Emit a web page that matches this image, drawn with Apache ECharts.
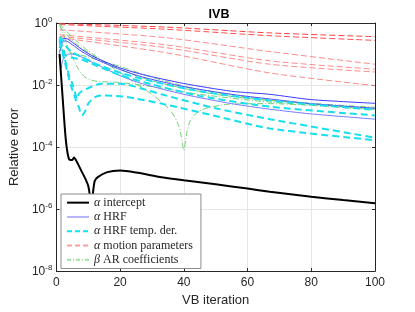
<!DOCTYPE html>
<html>
<head>
<meta charset="utf-8">
<script src="https://cdn.jsdelivr.net/npm/echarts@6/dist/echarts.min.js"></script>
<style>html,body{margin:0;padding:0;background:#fff}#c{width:415px;height:312px}</style>
</head>
<body>
<div id="c"></div>
<script>
// ---- data (VB iteration, relative error) ----
const xTicks = [0, 20, 40, 60, 80, 100];
const yTickExp = [0, -2, -4, -6, -8];

// alpha intercept
const itIntercept = [1, 2, 3, 4, 5, 5.5, 6.5, 8, 9, 10, 11, 12, 13, 16, 20, 25, 33, 40, 50, 60, 67, 80, 90, 100];
const alphaIntercept = [0.1, 0.00355, 0.000158, 3.98e-5, 3.8e-5, 4.57e-5, 3.24e-5, 1.58e-5, 1.0e-5, 5.6e-6, 1.6e-6, 7.9e-6, 1.07e-5, 1.55e-5, 1.74e-5, 1.51e-5, 1.07e-5, 8.5e-6, 6.31e-6, 4.57e-6, 3.63e-6, 2.51e-6, 1.95e-6, 1.55e-6];

// alpha HRF (three components)
const itHrfA = [1, 2, 3, 5, 8, 12, 20, 27, 40, 55, 67, 80, 100];
const hrf1 = [0.158, 0.302, 0.316, 0.24, 0.141, 0.0794, 0.0355, 0.0219, 0.0112, 0.00631, 0.00501, 0.00339, 0.00257];
const hrf2 = [0.112, 0.251, 0.263, 0.2, 0.12, 0.0708, 0.0316, 0.0182, 0.00891, 0.00501, 0.00355, 0.00251, 0.00178];
const itHrfB = [1, 1.5, 2, 3, 4, 6, 8, 12, 20, 27, 40, 55, 67, 80, 100];
const hrf3 = [0.126, 0.0355, 0.0631, 0.0891, 0.1, 0.0955, 0.0794, 0.0501, 0.02, 0.011, 0.00501, 0.00251, 0.00166, 0.00117, 0.000794];

// alpha HRF temporal derivative
const itTdU = [1, 2, 3, 5, 8, 12, 20, 30, 45, 67, 100];
const tdU1 = [0.355, 0.282, 0.178, 0.112, 0.0794, 0.0501, 0.0251, 0.0132, 0.00631, 0.00316, 0.00158];
const tdU2 = [0.282, 0.158, 0.0891, 0.0759, 0.0661, 0.0447, 0.0209, 0.0105, 0.00447, 0.002, 0.00105];
const itTdW1 = [1, 2, 3, 4, 5, 6, 6.5, 7, 8, 10, 14, 20, 27, 33, 50, 67, 100];
const tdW1 = [0.316, 0.126, 0.0501, 0.02, 0.0112, 0.00501, 0.00355, 0.00501, 0.00631, 0.00794, 0.011, 0.011, 0.00759, 0.00501, 0.00178, 0.000794, 0.0002];
const itTdW2 = [1, 2, 3, 4, 5, 6, 7, 8, 9, 10, 12, 14, 20, 25, 33, 50, 67, 100];
const tdW2 = [0.251, 0.1, 0.0398, 0.0158, 0.00708, 0.00355, 0.002, 0.00107, 0.00141, 0.00251, 0.00398, 0.00457, 0.00437, 0.00363, 0.00251, 0.001, 0.000398, 0.000166];

// alpha motion parameters
const itMotion = [1, 34, 67, 100];
const mot1 = [0.955, 0.741, 0.479, 0.363];
const mot2 = [0.891, 0.631, 0.389, 0.275];
const mot3 = [0.603, 0.339, 0.12, 0.0468];
const mot4 = [0.417, 0.2, 0.0603, 0.0324];
const mot5 = [0.372, 0.162, 0.0468, 0.0263];
const mot6 = [0.339, 0.112, 0.0245, 0.00955];

// beta AR coefficients
const itArDip = [1, 3, 6, 10, 15, 20, 25, 30, 33, 36, 38, 39, 40, 41, 42, 44, 47, 54, 67, 100];
const arDip = [0.955, 0.562, 0.282, 0.126, 0.0562, 0.0251, 0.0112, 0.00501, 0.00282, 0.00141, 0.000631, 0.000282, 7.94e-5, 0.000316, 0.000708, 0.00126, 0.00178, 0.0024, 0.00251, 0.00158];
const itAr2 = [1, 2, 3, 4, 5, 7, 9, 12, 20, 30, 45, 67, 100];
const ar2 = [0.891, 0.501, 0.251, 0.126, 0.0794, 0.0316, 0.0178, 0.0135, 0.012, 0.00891, 0.00501, 0.00282, 0.00178];
const itAr3 = [1, 3, 6, 10, 16, 25, 34, 50, 67, 100];
const ar3 = [0.794, 0.447, 0.224, 0.112, 0.0501, 0.02, 0.0107, 0.00501, 0.00316, 0.00191];
const itAr4 = [1, 4, 9, 20, 30, 45, 67, 100];
const ar4 = [0.141, 0.112, 0.0851, 0.0398, 0.0178, 0.00708, 0.00331, 0.00166];

const legendNames = ['α intercept', 'α HRF', 'α HRF temp. der.', 'α motion parameters', 'β AR coefficients'];

// ---- build ----
const pairs = (xs, ys) => xs.map((x, i) => [x, ys[i]]);
const AX = '#262626';
function line(name, xs, ys, color, width, type, z) {
  return {
    name: name, type: 'line', data: pairs(xs, ys), symbol: 'none', smooth: 0.25,
    xAxisIndex: 0, yAxisIndex: 0, silent: true, z: z || 2,
    lineStyle: { color: color, width: width, type: type }
  };
}
const dashC = [7, 4], dashR = [6, 3], dashG = [6, 2, 1, 2];
const series = [
  line('m1', itMotion, mot1, '#ff4040', 1, dashR),
  line('m2', itMotion, mot2, '#ff5050', 1, dashR),
  line('m3', itMotion, mot3, '#ff8a8a', 1, dashR),
  line('m4', itMotion, mot4, '#ff8a8a', 1, dashR),
  line('m5', itMotion, mot5, '#ff8a8a', 1, dashR),
  line('m6', itMotion, mot6, '#ff8a8a', 1, dashR),
  line('g1', itArDip, arDip, '#66c866', 0.9, dashG),
  line('g2', itAr2, ar2, '#66c866', 0.9, dashG),
  line('g3', itAr3, ar3, '#66c866', 0.9, dashG),
  line('g4', itAr4, ar4, '#66c866', 0.9, dashG),
  line('h1', itHrfA, hrf1, '#3a3aff', 1, 'solid'),
  line('h2', itHrfA, hrf2, '#4c4cff', 1, 'solid'),
  line('h3', itHrfB, hrf3, '#7a7aff', 1, 'solid'),
  line('t1', itTdU, tdU1, '#18dfee', 2, dashC),
  line('t2', itTdU, tdU2, '#18dfee', 2, dashC),
  line('t3', itTdW1, tdW1, '#18dfee', 2, dashC),
  line('t4', itTdW2, tdW2, '#18dfee', 2, dashC),
  line('i1', itIntercept, alphaIntercept, '#000000', 2, 'solid', 5)
];
// legend-only entries
const legStyles = [
  ['#000000', 2, 'solid'],
  ['#b4b4ff', 2, 'solid'],
  ['#00e8f0', 2, [5, 3]],
  ['#ffa0a0', 1, [5, 3]],
  ['#9ee09e', 1, [4, 2, 1, 2]]
];
legendNames.forEach((n, k) => {
  series.push({ name: n, type: 'line', data: [], symbol: 'none',
    lineStyle: { color: legStyles[k][0], width: legStyles[k][1], type: legStyles[k][2] },
    itemStyle: { color: legStyles[k][0] } });
});

const chart = echarts.init(document.getElementById('c'), null, { renderer: 'canvas' });
const baseX = {
  type: 'value', min: 0, max: 100, interval: 20,
  axisLine: { show: true, onZero: false, lineStyle: { color: AX, width: 1 } },
  axisTick: { show: true, inside: true, length: 3, lineStyle: { color: AX } }
};
const baseY = {
  type: 'log', logBase: 10, min: 1e-8, max: 1, interval: 2,
  axisLine: { show: true, onZero: false, lineStyle: { color: AX, width: 1 } },
  axisTick: { show: true, inside: true, length: 3, lineStyle: { color: AX } }
};
chart.setOption({
  animation: false,
  backgroundColor: '#fff',
  title: {
    text: 'IVB', left: 214, top: 3, textAlign: 'center',
    textStyle: { fontFamily: 'Liberation Sans, Arial, sans-serif', fontSize: 12.5, fontWeight: 'bold', color: '#000' }
  },
  grid: { left: 54, right: 40, top: 23, bottom: 36, containLabel: false },
  xAxis: [
    Object.assign({}, baseX, {
      position: 'bottom',
      name: 'VB iteration', nameLocation: 'middle', nameGap: 17,
      nameTextStyle: { fontFamily: 'Liberation Sans, Arial, sans-serif', fontSize: 13, color: AX },
      axisLabel: { margin: 6, fontFamily: 'Liberation Sans, Arial, sans-serif', fontSize: 12, color: AX },
      splitLine: { show: true, lineStyle: { color: '#e6e6e6', width: 1 } }
    }),
    Object.assign({}, baseX, { position: 'top', axisLabel: { show: false }, splitLine: { show: false } })
  ],
  yAxis: [
    Object.assign({}, baseY, {
      position: 'left',
      name: 'Relative error', nameLocation: 'middle', nameGap: 26, nameRotate: 90,
      nameTextStyle: { fontFamily: 'Liberation Sans, Arial, sans-serif', fontSize: 13, color: AX },
      axisLabel: {
        margin: 4, color: AX,
        formatter: v => '{b|10}{s|' + Math.round(Math.log10(v)) + '}',
        rich: {
          b: { fontFamily: 'Liberation Sans, Arial, sans-serif', fontSize: 12, color: AX, verticalAlign: 'bottom' },
          s: { fontFamily: 'Liberation Sans, Arial, sans-serif', fontSize: 8, color: AX, verticalAlign: 'bottom', padding: [0, 0, 6, 0] }
        }
      },
      splitLine: { show: true, lineStyle: { color: '#e6e6e6', width: 1 } }
    }),
    Object.assign({}, baseY, { position: 'right', axisLabel: { show: false }, splitLine: { show: false } })
  ],
  legend: {
    data: legendNames, orient: 'vertical', left: 61, top: 194,
    padding: [2, 8, 2, 5], itemGap: 1, itemWidth: 22, itemHeight: 10,
    backgroundColor: '#ffffff', borderColor: '#8c8c8c', borderWidth: 1, z: 10,
    selectedMode: false,
    itemStyle: { opacity: 0 },
    formatter: n => n.replace(/^([αβ])/, '{g|$1}'),
    textStyle: {
      fontFamily: 'Liberation Serif, DejaVu Serif, serif', fontSize: 12, lineHeight: 13.3, color: '#262626',
      rich: { g: { fontFamily: 'Liberation Serif, DejaVu Serif, serif', fontSize: 12, lineHeight: 13.3, fontStyle: 'italic', color: '#262626' } }
    }
  },
  series: series
});
</script>
</body>
</html>
